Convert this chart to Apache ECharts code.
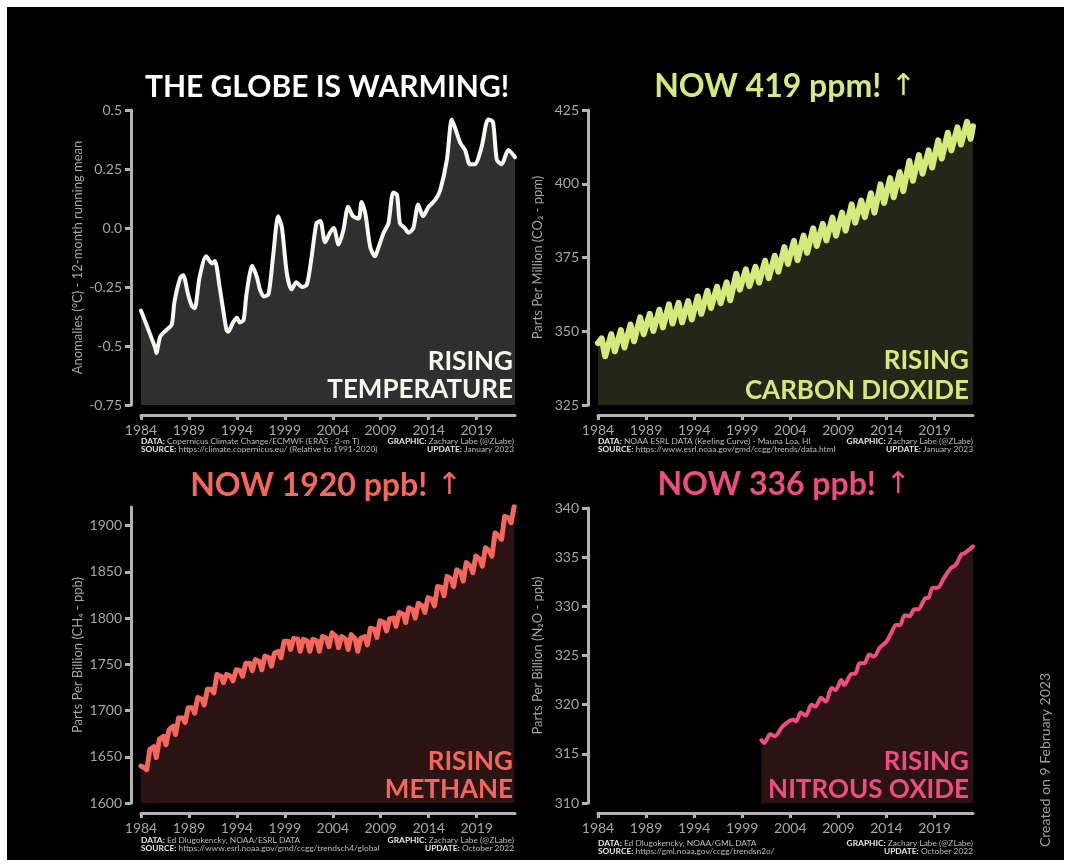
<!DOCTYPE html>
<html>
<head>
<meta charset="utf-8">
<script src="https://cdn.jsdelivr.net/npm/echarts@6/dist/echarts.min.js"></script>
<style>
  html, body { margin:0; padding:0; background:#ffffff; }
  #bg { position:absolute; left:7px; top:7px; width:1057px; height:853px; background:#000; }
  #chart { position:absolute; left:0; top:0; width:1068px; height:865px; }
</style>
</head>
<body>
<div id="bg"></div>
<div id="chart"></div>
<script>
// ---------------- DATA ----------------
const xTicks = [1984, 1989, 1994, 1999, 2004, 2009, 2014, 2019];
const ch4Ticks = [1600, 1650, 1700, 1750, 1800, 1850, 1900];

// Temperature anomaly (12-month running mean, °C)
const tempYears = [1984.0,1985.5,1985.6,1986.0,1986.7,1987.2,1987.5,1988.1,1988.4,1988.9,1989.3,1989.6,1990.1,1990.8,1991.4,1991.7,1992.2,1992.9,1993.1,1993.6,1994.0,1994.3,1994.7,1995.0,1995.6,1996.1,1996.4,1996.8,1997.3,1997.8,1998.3,1998.7,1999.2,1999.7,2000.2,2000.8,2001.3,2001.8,2002.3,2002.7,2003.2,2003.7,2004.1,2004.6,2005.1,2005.6,2006.1,2006.7,2007.0,2007.4,2007.9,2008.4,2008.7,2009.3,2009.8,2010.3,2010.7,2011.0,2011.5,2011.9,2012.4,2012.9,2013.4,2014.0,2014.7,2015.2,2015.9,2016.4,2016.7,2017.3,2017.8,2018.3,2018.8,2019.5,2020.2,2020.7,2021.1,2021.6,2022.3,2023.0];
const tempVals = [-0.35,-0.51,-0.53,-0.46,-0.43,-0.41,-0.31,-0.21,-0.20,-0.28,-0.33,-0.34,-0.21,-0.12,-0.15,-0.14,-0.25,-0.43,-0.44,-0.40,-0.38,-0.40,-0.39,-0.28,-0.16,-0.21,-0.26,-0.29,-0.28,-0.11,0.05,0.00,-0.19,-0.26,-0.23,-0.25,-0.24,-0.12,0.02,0.03,-0.06,-0.02,0.00,-0.07,-0.01,0.09,0.05,0.04,0.11,0.06,-0.08,-0.12,-0.09,-0.02,0.02,0.15,0.14,0.02,0.00,-0.02,0.00,0.10,0.05,0.09,0.12,0.16,0.29,0.46,0.43,0.36,0.33,0.27,0.27,0.34,0.46,0.45,0.29,0.27,0.33,0.30];

// CO2 (ppm), years 1984..2022: seasonal maximum (May) and minimum (Sep/Oct)
const co2FirstYear = 1984;
const co2Start = 346.0;
const co2End = 419.5;
const co2Peak = [347.6,349.0,350.4,352.3,354.7,355.9,357.3,359.1,359.6,360.2,361.8,363.7,365.1,366.6,369.5,371.0,371.8,373.9,375.6,378.5,380.6,382.4,384.9,386.4,388.5,390.2,393.0,394.3,396.8,399.8,401.9,403.9,407.7,409.7,411.3,414.7,417.3,419.1,421.0];
const co2Trough = [341.5,343.2,344.5,346.6,349.0,350.1,351.3,352.6,353.0,354.0,355.9,357.9,359.5,360.5,364.1,365.3,366.5,368.0,370.2,372.8,374.1,376.6,378.9,380.8,382.4,384.1,386.8,388.7,390.2,393.5,395.4,397.5,401.0,403.4,405.5,408.5,411.3,413.3,415.2];

// CH4 (ppb), years 1984..2022: late-winter plateau, summer low, end-of-year rise
const ch4FirstYear = 1984;
const ch4Start = 1640;
const ch4Plateau = [1638,1661,1672,1683,1692,1703,1712,1723,1737,1737,1743,1751,1753,1757,1764,1775,1777,1775,1775,1778,1780,1777,1777,1780,1788,1795,1800,1804,1809,1813,1820,1833,1842,1849,1856,1863,1872,1888,1908];
const ch4Trough = [1636,1649,1663,1674,1687,1697,1706,1719,1730,1732,1737,1743,1744,1748,1757,1766,1764,1764,1764,1769,1768,1766,1764,1771,1779,1786,1791,1795,1800,1806,1813,1824,1834,1840,1849,1856,1867,1885,1903];
const ch4Rise = [1658,1669,1679,1692,1703,1714,1723,1739,1739,1744,1751,1755,1759,1762,1775,1778,1777,1777,1780,1784,1780,1782,1778,1789,1797,1799,1806,1811,1816,1822,1834,1845,1852,1860,1867,1876,1892,1910,1921];

// N2O (ppb)
const n2oYears = [2001.0,2001.3,2001.9,2002.4,2003.2,2004.3,2004.6,2005.1,2005.6,2006.2,2006.6,2007.2,2007.7,2008.3,2008.7,2009.3,2009.6,2010.3,2010.8,2011.2,2011.7,2012.2,2012.7,2013.3,2014.0,2014.5,2015.0,2015.4,2015.9,2016.4,2016.9,2017.3,2018.0,2018.4,2018.8,2019.3,2020.0,2020.7,2021.2,2021.8,2022.1,2023.0];
const n2oVals = [316.4,316.1,317.0,316.8,317.8,318.5,318.3,319.2,318.9,320.0,319.8,320.7,320.3,321.7,321.5,322.5,322.0,323.1,323.2,324.2,324.2,325.1,324.9,325.8,326.4,327.3,328.1,328.1,329.1,329.0,329.7,329.7,330.8,330.9,331.9,331.9,332.9,333.9,334.2,335.3,335.4,336.1];

// ---------------- BUILD SERIES DATA ----------------
const tempData = tempYears.map((y, i) => [y, tempVals[i]]);

const co2Data = [[co2FirstYear, co2Start]];
co2Peak.forEach((v, i) => {
  const y = co2FirstYear + i;
  co2Data.push([y + 0.38, v]);
  co2Data.push([y + 0.75, co2Trough[i]]);
});
co2Data.push([co2FirstYear + co2Peak.length, co2End]);

const ch4Data = [[ch4FirstYear, ch4Start]];
ch4Plateau.forEach((v, i) => {
  const y = ch4FirstYear + i;
  ch4Data.push([y + 0.35, v]);
  ch4Data.push([y + 0.6, ch4Trough[i]]);
  ch4Data.push([y + 0.92, ch4Rise[i]]);
});

const n2oData = n2oYears.map((y, i) => [y, n2oVals[i]]);

// ---------------- STYLE ----------------
const AXIS = '#b3b3b3';
const LABEL = '#a6a6a6';
const FONT = 'Lato, "Open Sans", sans-serif';
const COLORS = {
  temp: { line: '#f8f8f2', fill: '#2f2f2f' },
  co2:  { line: '#d6ea7b', fill: '#25261a' },
  ch4:  { line: '#f5675c', fill: '#2b1413' },
  n2o:  { line: '#ef4c80', fill: '#2b1315' }
};

const grids = [
  { left: 141, top: 110, width: 374, height: 295 },
  { left: 598, top: 110, width: 375, height: 295 },
  { left: 141, top: 507, width: 374, height: 296 },
  { left: 598, top: 508, width: 375, height: 295 }
];

const plain = v => String(v);

function xAxisCfg(i) {
  return {
    type: 'value', gridIndex: i, min: 1984, max: 2023, offset: 10,
    axisLine: { show: true, onZero: false, lineStyle: { color: AXIS, width: 3 } },
    axisTick: { show: true, length: 5, customValues: xTicks, lineStyle: { color: AXIS, width: 3 } },
    axisLabel: { customValues: xTicks, color: LABEL, fontSize: 14, fontFamily: FONT, margin: 8, formatter: plain },
    splitLine: { show: false }
  };
}
function yAxisCfg(i, min, max, interval, name, gap, fmt, custom) {
  const cfg = {
    type: 'value', gridIndex: i, min: min, max: max, interval: interval, offset: 10,
    axisLine: { show: true, onZero: false, lineStyle: { color: AXIS, width: 3 } },
    axisTick: { show: true, length: 6, lineStyle: { color: AXIS, width: 3 } },
    axisLabel: { color: LABEL, fontSize: 14, fontFamily: FONT, margin: 9, formatter: fmt || plain },
    splitLine: { show: false },
    name: name, nameLocation: 'middle', nameGap: gap,
    nameTextStyle: { color: LABEL, fontSize: 13, fontFamily: FONT }
  };
  if (custom) { cfg.axisLabel.customValues = custom; cfg.axisTick.customValues = custom; }
  return cfg;
}

function lineSeries(i, data, c, width, smooth) {
  return {
    type: 'line', xAxisIndex: i, yAxisIndex: i, data: data,
    showSymbol: false, smooth: smooth || false, z: 2,
    lineStyle: { color: c.line, width: width, join: 'round', cap: 'round' },
    areaStyle: { color: c.fill, opacity: 1, origin: 'start' },
    silent: true
  };
}

// ---------------- TEXT ----------------
function txt(x, y, text, style) {
  return { type: 'text', x: x, y: y, z: 100, silent: true, style: Object.assign({ text: text }, style) };
}
function headline(x, y, main, color, size) {
  return txt(x, y, '{m|' + main + '}{a| ↑}', {
    align: 'center', verticalAlign: 'middle',
    rich: {
      m: { fill: color, fontSize: size, fontWeight: 'bold', fontFamily: FONT },
      a: { fill: color, fontSize: size - 2, fontWeight: 'normal', fontFamily: '"DejaVu Sans"' }
    }
  });
}
function rising(xRight, y1, y2, word, color) {
  const st = { fill: color, fontSize: 26, fontWeight: 'bold', fontFamily: FONT, align: 'right', verticalAlign: 'middle' };
  return [txt(xRight, y1, 'RISING', st), txt(xRight, y2, word, st)];
}
function foot(xl, xr, y, data, source, update) {
  const rich = {
    b: { fill: '#e6e6e6', fontWeight: 'bold', fontSize: 8.4, fontFamily: FONT },
    n: { fill: '#bdbdbd', fontSize: 8.4, fontFamily: FONT }
  };
  const base = { verticalAlign: 'middle', rich: rich };
  return [
    txt(xl, y, '{b|DATA:}{n| ' + data + '}', Object.assign({ align: 'left' }, base)),
    txt(xl, y + 8, '{b|SOURCE:}{n| ' + source + '}', Object.assign({ align: 'left' }, base)),
    txt(xr, y, '{b|GRAPHIC:}{n| Zachary Labe (@ZLabe)}', Object.assign({ align: 'right' }, base)),
    txt(xr, y + 8, '{b|UPDATE:}{n| ' + update + '}', Object.assign({ align: 'right' }, base))
  ];
}

const graphic = [].concat(
  [txt(327, 87, 'THE GLOBE IS WARMING!', { fill: '#ffffff', fontSize: 30, fontWeight: 'bold', fontFamily: FONT, align: 'center', verticalAlign: 'middle' })],
  [headline(785, 87, 'NOW 419 ppm!', COLORS.co2.line, 32)],
  [headline(326, 486, 'NOW 1920 ppb!', COLORS.ch4.line, 32)],
  [headline(784, 485, 'NOW 336 ppb!', COLORS.n2o.line, 32)],
  rising(513, 362, 390, 'TEMPERATURE', COLORS.temp.line),
  rising(969, 361, 391, 'CARBON DIOXIDE', COLORS.co2.line),
  rising(513, 762, 790, 'METHANE', COLORS.ch4.line),
  rising(969, 762, 790, 'NITROUS OXIDE', COLORS.n2o.line),
  foot(141, 514, 441, 'Copernicus Climate Change/ECMWF (ERA5 : 2-m T)', 'https://climate.copernicus.eu/ (Relative to 1991-2020)', 'January 2023'),
  foot(598, 973, 441, 'NOAA ESRL DATA (Keeling Curve) - Mauna Loa, HI', 'https://www.esrl.noaa.gov/gmd/ccgg/trends/data.html', 'January 2023'),
  foot(141, 514, 840, 'Ed Dlugokencky, NOAA/ESRL DATA', 'https://www.esrl.noaa.gov/gmd/ccgg/trendsch4/global', 'October 2022'),
  foot(598, 973, 843, 'Ed Dlugokencky, NOAA/GML DATA', 'https://gml.noaa.gov/ccgg/trendsn2o/', 'October 2022'),
  [{ type: 'text', x: 1045, y: 760, rotation: Math.PI / 2, z: 100, silent: true,
     style: { text: 'Created on 9 February 2023', fill: '#a0a0a0', fontSize: 14, fontFamily: FONT, align: 'center', verticalAlign: 'middle' } }]
);

const option = {
  animation: false,
  backgroundColor: 'transparent',
  grid: grids.map(g => Object.assign({ outerBoundsMode: 'none' }, g)),
  xAxis: [0, 1, 2, 3].map(xAxisCfg),
  yAxis: [
    yAxisCfg(0, -0.75, 0.5, 0.25, 'Anomalies (°C) - 12-month running mean', 47, v => (v === 0 ? '0.0' : String(v))),
    yAxisCfg(1, 325, 425, 25, 'Parts Per Million (CO₂ - ppm)', 44),
    yAxisCfg(2, 1600, 1920, 50, 'Parts Per Billion (CH₄ - ppb)', 47, null, ch4Ticks),
    yAxisCfg(3, 310, 340, 5, 'Parts Per Billion (N₂O - ppb)', 44)
  ],
  series: [
    lineSeries(0, tempData, COLORS.temp, 4, 0.25),
    lineSeries(1, co2Data, COLORS.co2, 6, false),
    lineSeries(2, ch4Data, COLORS.ch4, 5, false),
    lineSeries(3, n2oData, COLORS.n2o, 4, 0.3)
  ],
  graphic: { elements: graphic }
};

const chart = echarts.init(document.getElementById('chart'), null, { renderer: 'canvas' });
chart.setOption(option);
</script>
</body>
</html>
